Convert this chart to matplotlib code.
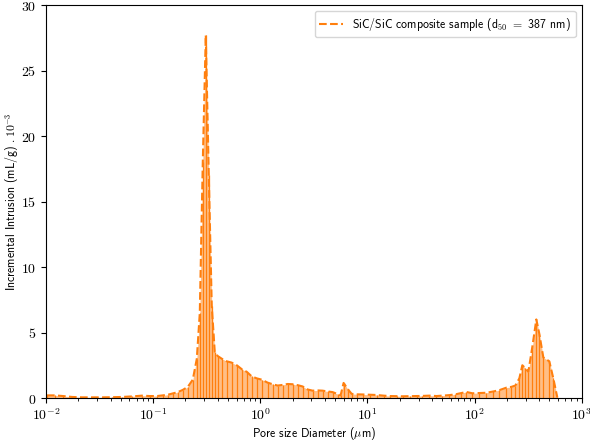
import matplotlib
matplotlib.use("Agg")
import matplotlib.pyplot as plt
from matplotlib.ticker import FixedLocator, LogLocator, NullFormatter

plt.rcParams['mathtext.fontset'] = 'cm'

diameter_um = [0.0102, 0.0121, 0.0144, 0.0175, 0.0217, 0.0268, 0.0333, 0.0412, 0.0511, 0.0633,
               0.0785, 0.0932, 0.1083, 0.1231, 0.1371, 0.1526, 0.1699, 0.1891, 0.2106, 0.2344,
               0.2555, 0.2724, 0.2905, 0.3098, 0.3305, 0.3524, 0.3759, 0.4009, 0.4368, 0.4863,
               0.5414, 0.6028, 0.6711, 0.7468, 0.8316, 0.9258, 1.031, 1.172, 1.305, 1.453,
               1.618, 1.801, 2.005, 2.232, 2.485, 2.766, 3.080, 3.428, 3.816, 4.249,
               4.730, 5.265, 5.615, 5.990, 6.525, 7.111, 7.916, 9.003, 10.46, 12.16,
               14.13, 16.07, 18.68, 21.24, 24.69, 28.70, 32.63, 37.93, 44.08, 50.12,
               58.26, 66.25, 75.35, 83.88, 95.41, 110.9, 128.9, 149.8, 170.3, 198.0,
               220.4, 240.1, 261.6, 279.0, 297.6, 317.4, 345.8, 376.8, 401.9, 437.9,
               498.2, 542.8, 591.4]
intrusion = [0.20, 0.20, 0.15, 0.08, 0.05, 0.05, 0.05, 0.06, 0.08, 0.12,
             0.18, 0.15, 0.15, 0.20, 0.25, 0.35, 0.45, 0.62, 0.85, 1.40,
             3.0, 6.5, 18.0, 27.7, 17.0, 7.0, 3.5, 3.2, 3.0, 2.8,
             2.7, 2.5, 2.2, 2.0, 1.65, 1.5, 1.40, 1.17, 1.05, 0.95,
             1.0, 1.07, 1.05, 0.98, 0.88, 0.65, 0.56, 0.58, 0.56, 0.50,
             0.45, 0.30, 0.20, 1.15, 0.70, 0.32, 0.28, 0.27, 0.25, 0.23,
             0.18, 0.15, 0.14, 0.13, 0.14, 0.15, 0.16, 0.18, 0.15, 0.18,
             0.22, 0.28, 0.38, 0.46, 0.36, 0.38, 0.40, 0.50, 0.60, 0.79,
             0.85, 0.95, 1.5, 2.5, 2.27, 2.0, 3.9, 6.0, 4.9, 3.1,
             2.8, 1.5, 0.05]

legend_label = r'SiC/SiC composite sample (d$_{50}$ $=$ 387 nm)'
xlabel = r'Pore size Diameter ($\mu$m)'
ylabel = r'Incremental Intrusion (mL/g) $.10^{-3}$'
yticks = [0, 5, 10, 15, 20, 25, 30]
xticks = [1e-2, 1e-1, 1e0, 1e1, 1e2, 1e3]
xtick_labels = [r'$10^{-2}$', r'$10^{-1}$', r'$10^{0}$', r'$10^{1}$', r'$10^{2}$', r'$10^{3}$']

fig = plt.figure(figsize=(5.9, 4.44), dpi=100)
ax = fig.add_axes([0.078, 0.1036, 0.908, 0.885])

color = '#ff7f0e'
ax.fill_between(diameter_um, intrusion, 0, color=color, alpha=0.5, lw=0)
ax.vlines(diameter_um, 0, intrusion, color=color, lw=0.9)
ax.plot(diameter_um, intrusion, '--', color=color, lw=1.5, label=legend_label)

ax.set_xscale('log')
ax.set_xlim(1e-2, 1e3)
ax.set_ylim(0, 30)
ax.xaxis.set_major_locator(FixedLocator(xticks))
ax.set_xticklabels(xtick_labels, fontsize=10)
ax.xaxis.set_minor_locator(LogLocator(base=10, subs=[2, 3, 4, 5, 6, 7, 8, 9], numticks=20))
ax.xaxis.set_minor_formatter(NullFormatter())
ax.set_yticks(yticks)
ax.set_yticklabels([r'$%d$' % t for t in yticks], fontsize=10)

lab_font = dict(family=['cmss10', 'DejaVu Sans'], size=8.5)
ax.set_xlabel(xlabel, fontdict=lab_font)
ax.set_ylabel(ylabel, fontdict=lab_font)
ax.yaxis.set_label_coords(-0.046, 0.5)
ax.xaxis.set_label_coords(0.5, -0.068)

leg = ax.legend(loc='upper right', prop={'family': ['cmss10', 'DejaVu Sans'], 'size': 8.5})

fig.savefig('out.png', dpi=100)
